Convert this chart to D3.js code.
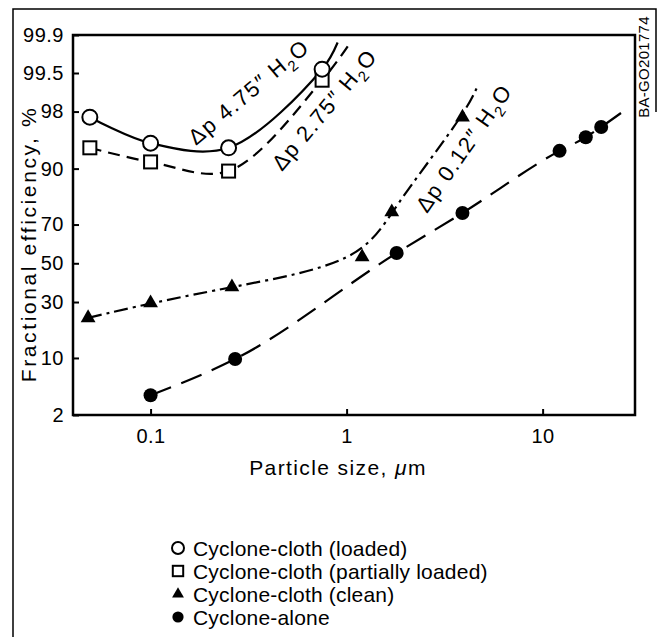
<!DOCTYPE html>
<html><head><meta charset="utf-8">
<script src="https://cdn.jsdelivr.net/npm/d3@7"></script>
<style>
html,body{margin:0;padding:0;background:#fff;}
svg{display:block;font-family:"Liberation Sans",Arial,Helvetica,sans-serif;}
</style></head><body>
<svg id="chart" width="660" height="637"></svg>
<script>
// ---- data ----
const xTicks = [0.1, 1, 10];
const xTickLabels = ["0.1", "1", "10"];
const yTicks = [2, 10, 30, 50, 70, 90, 98, 99.5, 99.9];
const yTickLabels = ["2", "10", "30", "50", "70", "90", "98", "99.5", "99.9"];

// Cyclone-cloth (loaded), Δp 4.75" H2O
const loadedX = [0.049, 0.1, 0.25, 0.75];
const loadedY = [97.6, 94.8, 94.1, 99.57];
const loadedFitX = [0.049, 0.1, 0.25, 0.75, 0.9];
const loadedFitY = [97.6, 94.8, 94.1, 99.57, 99.86];

// Cyclone-cloth (partially loaded), Δp 2.75" H2O
const partialX = [0.049, 0.1, 0.25, 0.75];
const partialY = [94.1, 91.5, 89.4, 99.34];
const partialFitX = [0.049, 0.1, 0.25, 0.75, 1.02];
const partialFitY = [94.1, 91.5, 89.4, 99.34, 99.84];

// Cyclone-cloth (clean), Δp 0.12" H2O
const cleanX = [0.048, 0.1, 0.26, 1.2, 1.7, 3.9];
const cleanY = [23, 29.5, 37.4, 53.4, 75.6, 97.6];
const cleanFitX = [0.048, 0.1, 0.26, 1.2, 1.7, 3.9, 4.6];
const cleanFitY = [23, 29.5, 37.4, 50.5, 76.5, 97.6, 99.1];

// Cyclone-alone
const aloneX = [0.1, 0.27, 1.8, 3.9, 12.2, 16.6, 19.9];
const aloneY = [3.7, 9.75, 55.5, 75.2, 93.6, 95.6, 96.75];
const aloneFitX = [0.1, 0.27, 1.8, 3.9, 12.2, 16.6, 19.9, 25.7];
const aloneFitY = [3.7, 9.75, 55.5, 75.2, 93.6, 95.6, 96.75, 98.0];

const legendLabels = ["Cyclone-cloth (loaded)", "Cyclone-cloth (partially loaded)", "Cyclone-cloth (clean)", "Cyclone-alone"];
const legendSymbols = ["openCircle", "openSquare", "triangle", "filledCircle"];

// ---- inverse normal CDF (probability scale) ----
function probit(p) {
  const a=[-3.969683028665376e+01,2.209460984245205e+02,-2.759285104469687e+02,1.383577518672690e+02,-3.066479806614716e+01,2.506628277459239e+00];
  const b=[-5.447609879822406e+01,1.615858368580409e+02,-1.556989798598866e+02,6.680131188771972e+01,-1.328068155288572e+01];
  const c=[-7.784894002430293e-03,-3.223964580411365e-01,-2.400758277161838e+00,-2.549732539343734e+00,4.374664141464968e+00,2.938163982698783e+00];
  const d=[7.784695709041462e-03,3.224671290700398e-01,2.445134137142996e+00,3.754408661907416e+00];
  const pl=0.02425, ph=1-pl; let q,r;
  if (p<pl){q=Math.sqrt(-2*Math.log(p));return (((((c[0]*q+c[1])*q+c[2])*q+c[3])*q+c[4])*q+c[5])/((((d[0]*q+d[1])*q+d[2])*q+d[3])*q+1);}
  if (p<=ph){q=p-0.5;r=q*q;return (((((a[0]*r+a[1])*r+a[2])*r+a[3])*r+a[4])*r+a[5])*q/(((((b[0]*r+b[1])*r+b[2])*r+b[3])*r+b[4])*r+1);}
  q=Math.sqrt(-2*Math.log(1-p));return -(((((c[0]*q+c[1])*q+c[2])*q+c[3])*q+c[4])*q+c[5])/((((d[0]*q+d[1])*q+d[2])*q+d[3])*q+1);
}

// ---- layout ----
const L = 73, R = 635, T = 35, B = 415;
const svg = d3.select("#chart");
const x = d3.scaleLog().domain([0.0402, 29.6]).range([L, R]);
const yz = d3.scaleLinear().domain([probit(0.02), probit(0.999)]).range([B, T]);
const y = v => yz(probit(v / 100));

// outer frame
svg.append("path").attr("d", "M13,637 V9 H656 V112")
  .attr("fill", "none").attr("stroke", "#000").attr("stroke-width", 1.5);
svg.append("text").attr("transform", "translate(649,67) rotate(-90)")
  .attr("text-anchor", "middle").attr("font-size", 15).attr("letter-spacing", 0.3).text("BA-GO201774");

// axes
const xAxis = d3.axisBottom(x).tickValues(xTicks).tickFormat((d, i) => xTickLabels[i])
  .tickSizeInner(-6).tickSizeOuter(0).tickPadding(14);
const gx = svg.append("g").attr("transform", `translate(0,${B})`).call(xAxis);
const yAxis = d3.axisLeft(yz).tickValues(yTicks.map(v => probit(v / 100)))
  .tickFormat((d, i) => yTickLabels[i]).tickSizeInner(-6).tickSizeOuter(0).tickPadding(9);
const gy = svg.append("g").attr("transform", `translate(${L},0)`).call(yAxis);
[gx, gy].forEach(g => {
  g.select(".domain").remove();
  g.selectAll(".tick line").attr("stroke", "#000").attr("stroke-width", 2);
  g.selectAll(".tick text").attr("font-size", 20).attr("fill", "#000").attr("letter-spacing", 0.5)
    .attr("font-family", '"Liberation Sans",Arial,sans-serif');
});

svg.append("rect").attr("x", L).attr("y", T).attr("width", R - L).attr("height", B - T)
  .attr("fill", "none").attr("stroke", "#000").attr("stroke-width", 2.5);

// axis titles
const xt = svg.append("text").attr("x", 338).attr("y", 475).attr("text-anchor", "middle")
  .attr("font-size", 21).attr("letter-spacing", 1.4);
xt.append("tspan").text("Particle size, ");
xt.append("tspan").attr("font-style", "italic").text("\u03BC");
xt.append("tspan").text("m");
svg.append("text").attr("transform", "translate(36,244) rotate(-90)").attr("text-anchor", "middle")
  .attr("font-size", 21).attr("letter-spacing", 2.6).text("Fractional efficiency, %");

// curves
const lineCR = d3.line().x(d => x(d[0])).y(d => y(d[1])).curve(d3.curveCatmullRom.alpha(0.5));
const lineMono = d3.line().x(d => x(d[0])).y(d => y(d[1])).curve(d3.curveMonotoneX);
const lineBasis = d3.line().x(d => x(d[0])).y(d => y(d[1])).curve(d3.curveBasis);
const zip = (a, b) => a.map((v, i) => [v, b[i]]);
function drawCurve(gen, xs, ys, dash) {
  svg.append("path").datum(zip(xs, ys)).attr("d", gen).attr("fill", "none")
    .attr("stroke", "#000").attr("stroke-width", 2.2).attr("stroke-dasharray", dash);
}
drawCurve(lineCR, loadedFitX, loadedFitY, null);
drawCurve(lineCR, partialFitX, partialFitY, "12,7");
drawCurve(lineBasis, cleanFitX, cleanFitY, "14,5,3,5");
drawCurve(lineMono, aloneFitX, aloneFitY, "22,11");

// markers
function marker(g, type, cx, cy, s) {
  if (type === "openCircle") g.append("circle").attr("cx", cx).attr("cy", cy).attr("r", 7.5*s).attr("fill", "#fff").attr("stroke", "#000").attr("stroke-width", 2);
  if (type === "openSquare") g.append("rect").attr("x", cx - 6.5*s).attr("y", cy - 6.5*s).attr("width", 13*s).attr("height", 13*s).attr("fill", "#fff").attr("stroke", "#000").attr("stroke-width", 2);
  if (type === "triangle") g.append("path").attr("d", d3.symbol(d3.symbolTriangle, 95*s*s)()).attr("transform", `translate(${cx},${cy})`).attr("fill", "#000");
  if (type === "filledCircle") g.append("circle").attr("cx", cx).attr("cy", cy).attr("r", 7*s).attr("fill", "#000");
}
const gm = svg.append("g");
zip(partialX, partialY).forEach(d => marker(gm, "openSquare", x(d[0]), y(d[1]), 1));
zip(loadedX, loadedY).forEach(d => marker(gm, "openCircle", x(d[0]), y(d[1]), 1));
zip(cleanX, cleanY).forEach(d => marker(gm, "triangle", x(d[0]), y(d[1]), 1));
zip(aloneX, aloneY).forEach(d => marker(gm, "filledCircle", x(d[0]), y(d[1]), 1));

// curve annotations
function annot(tx, ty, ang, val) {
  const t = svg.append("text").attr("transform", `translate(${tx},${ty}) rotate(${ang})`)
    .attr("font-size", 22).attr("letter-spacing", 1.6);
  t.append("tspan").text("\u0394p " + val + "\u2033 H");
  t.append("tspan").attr("dy", 6).attr("font-size", 15).text("2");
  t.append("tspan").attr("dy", -6).text("O");
}
annot(196, 146, -40, "4.75");
annot(282, 172, -50, "2.75");
annot(427, 214, -55, "0.12");

// legend
const lg = svg.append("g");
legendLabels.forEach((lab, i) => {
  const cy = 548 + i * 23;
  marker(lg, legendSymbols[i], 178, cy, 0.8);
  lg.append("text").attr("x", 193).attr("y", cy + 7.5).attr("font-size", 21).attr("letter-spacing", 0.2).text(lab);
});
</script>
</body></html>
